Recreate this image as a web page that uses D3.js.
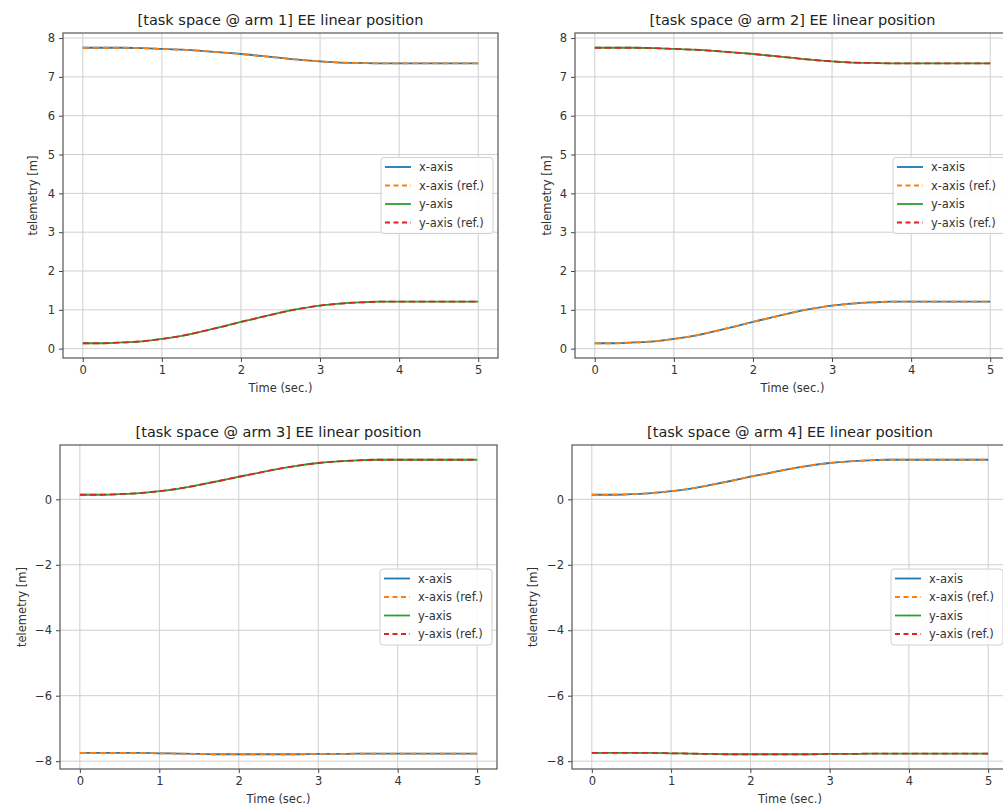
<!DOCTYPE html>
<html>
<head>
<meta charset="utf-8">
<script src="https://cdn.jsdelivr.net/npm/d3@7"></script>
<style>
  body { margin: 0; background: #fff; }
  svg { display: block; font-family: "DejaVu Sans", sans-serif; }
</style>
</head>
<body>
<svg id="fig" width="1003" height="807"></svg>
<script>
// Time samples (sec.)
const times = [0, 0.25, 0.5, 0.75, 1, 1.25, 1.5, 1.75, 2, 2.25, 2.5, 2.75, 3, 3.25, 3.5, 3.75, 4, 4.25, 4.5, 4.75, 5];

// Curves
const posHigh = [7.75, 7.75, 7.75, 7.74, 7.72, 7.70, 7.67, 7.63, 7.59, 7.54, 7.49, 7.44, 7.40, 7.37, 7.36, 7.35, 7.35, 7.35, 7.35, 7.35, 7.35];
const posRise = [0.14, 0.14, 0.16, 0.19, 0.25, 0.33, 0.44, 0.56, 0.69, 0.81, 0.93, 1.03, 1.11, 1.16, 1.19, 1.21, 1.21, 1.21, 1.21, 1.21, 1.21];
const posLow  = [-7.75, -7.75, -7.75, -7.75, -7.76, -7.77, -7.78, -7.79, -7.79, -7.79, -7.79, -7.79, -7.78, -7.78, -7.77, -7.77, -7.77, -7.77, -7.77, -7.77, -7.77];

// per-arm series (actual / reference)
const arm1X = posHigh, arm1XRef = posHigh, arm1Y = posRise, arm1YRef = posRise;
const arm2X = posRise, arm2XRef = posRise, arm2Y = posHigh, arm2YRef = posHigh;
const arm3X = posLow,  arm3XRef = posLow,  arm3Y = posRise, arm3YRef = posRise;
const arm4X = posRise, arm4XRef = posRise, arm4Y = posLow,  arm4YRef = posLow;

const xTicks = [0, 1, 2, 3, 4, 5];
const yTicksUpper = [0, 1, 2, 3, 4, 5, 6, 7, 8];
const yTicksLower = [-8, -6, -4, -2, 0];

const legendLabels = ["x-axis", "x-axis (ref.)", "y-axis", "y-axis (ref.)"];
const COLORS = ["#1f77b4", "#ff7f0e", "#2ca02c", "#d62728"];
const DASHED = [false, true, false, true];

const panels = [
  {title: "[task space @ arm 1] EE linear position", series: [arm1X, arm1XRef, arm1Y, arm1YRef],
   left: 63, right: 498, top: 33, bottom: 358, yTicks: yTicksUpper, labelX: 33},
  {title: "[task space @ arm 2] EE linear position", series: [arm2X, arm2XRef, arm2Y, arm2YRef],
   left: 575, right: 1010, top: 33, bottom: 358, yTicks: yTicksUpper, labelX: 547},
  {title: "[task space @ arm 3] EE linear position", series: [arm3X, arm3XRef, arm3Y, arm3YRef],
   left: 60, right: 497, top: 445, bottom: 769, yTicks: yTicksLower, labelX: 22},
  {title: "[task space @ arm 4] EE linear position", series: [arm4X, arm4XRef, arm4Y, arm4YRef],
   left: 572, right: 1008, top: 445, bottom: 769, yTicks: yTicksLower, labelX: 533}
];

const svg = d3.select("#fig");
const fmt = d3.format("d");

panels.forEach((p, pi) => {
  const g = svg.append("g");
  const w = p.right - p.left, h = p.bottom - p.top;

  // matplotlib-like 5% margins
  const xr = d3.extent(times), xpad = (xr[1] - xr[0]) * 0.05;
  const allY = p.series.flat();
  const yr = d3.extent(allY), ypad = (yr[1] - yr[0]) * 0.05;

  const x = d3.scaleLinear().domain([xr[0] - xpad, xr[1] + xpad]).range([p.left, p.right]);
  const y = d3.scaleLinear().domain([yr[0] - ypad, yr[1] + ypad]).range([p.bottom, p.top]);

  const clipId = "clip" + pi;
  svg.append("clipPath").attr("id", clipId)
    .append("rect").attr("x", p.left).attr("y", p.top).attr("width", w).attr("height", h);

  // grid
  g.append("g").selectAll("line.gx").data(xTicks).join("line")
    .attr("x1", d => x(d)).attr("x2", d => x(d))
    .attr("y1", p.top).attr("y2", p.bottom)
    .attr("stroke", "#cfcfcf").attr("stroke-width", 1);
  g.append("g").selectAll("line.gy").data(p.yTicks).join("line")
    .attr("y1", d => y(d)).attr("y2", d => y(d))
    .attr("x1", p.left).attr("x2", p.right)
    .attr("stroke", "#cfcfcf").attr("stroke-width", 1);

  // lines
  const line = d3.line().x((d, i) => x(times[i])).y(d => y(d)).curve(d3.curveMonotoneX);
  const lines = g.append("g").attr("clip-path", `url(#${clipId})`);
  p.series.forEach((s, si) => {
    lines.append("path")
      .attr("d", line(s))
      .attr("fill", "none")
      .attr("stroke", COLORS[si])
      .attr("stroke-width", 1.8)
      .attr("stroke-dasharray", DASHED[si] ? "6.5,3.5" : null);
  });

  // axes
  const xAxis = d3.axisBottom(x).tickValues(xTicks).tickFormat(fmt).tickSize(4).tickPadding(4);
  const yAxis = d3.axisLeft(y).tickValues(p.yTicks).tickFormat(fmt).tickSize(4).tickPadding(4);
  const gx = g.append("g").attr("transform", `translate(0,${p.bottom})`).call(xAxis);
  const gy = g.append("g").attr("transform", `translate(${p.left},0)`).call(yAxis);
  [gx, gy].forEach(a => {
    a.select(".domain").remove();
    a.selectAll(".tick line").attr("stroke", "#444").attr("stroke-width", 1);
    a.selectAll(".tick text").attr("fill", "#333").style("font-size", "11.5px").style("font-family", "DejaVu Sans");
  });

  // frame
  g.append("rect").attr("x", p.left).attr("y", p.top).attr("width", w).attr("height", h)
    .attr("fill", "none").attr("stroke", "#555").attr("stroke-width", 1.2);

  // title and labels
  g.append("text").attr("x", (p.left + p.right) / 2).attr("y", p.top - 8)
    .attr("text-anchor", "middle").attr("fill", "#222").style("font-size", "14.5px")
    .text(p.title);
  g.append("text").attr("x", (p.left + p.right) / 2).attr("y", p.bottom + 34)
    .attr("text-anchor", "middle").attr("fill", "#333").style("font-size", "11.5px")
    .text("Time (sec.)");
  g.append("text")
    .attr("transform", `translate(${p.labelX},${(p.top + p.bottom) / 2}) rotate(-90)`)
    .attr("text-anchor", "middle").attr("dominant-baseline", "central")
    .attr("fill", "#333").style("font-size", "11.5px")
    .text("telemetry [m]");

  // legend (center right)
  const lw = 112, lh = 76;
  const lx = p.right - 5 - lw, ly = (p.top + p.bottom) / 2 - lh / 2;
  const lg = g.append("g").attr("transform", `translate(${lx},${ly})`);
  lg.append("rect").attr("width", lw).attr("height", lh).attr("rx", 3)
    .attr("fill", "#fff").attr("fill-opacity", 0.85)
    .attr("stroke", "#d0d0d0").attr("stroke-width", 1);
  legendLabels.forEach((lab, i) => {
    const cy = 9.5 + i * 18.5;
    lg.append("line").attr("x1", 4).attr("x2", 30).attr("y1", cy).attr("y2", cy)
      .attr("stroke", COLORS[i]).attr("stroke-width", 1.8)
      .attr("stroke-dasharray", DASHED[i] ? "5,3.5" : null);
    lg.append("text").attr("x", 38).attr("y", cy).attr("dominant-baseline", "central")
      .attr("fill", "#333").style("font-size", "11.5px").text(lab);
  });
});
</script>
</body>
</html>
